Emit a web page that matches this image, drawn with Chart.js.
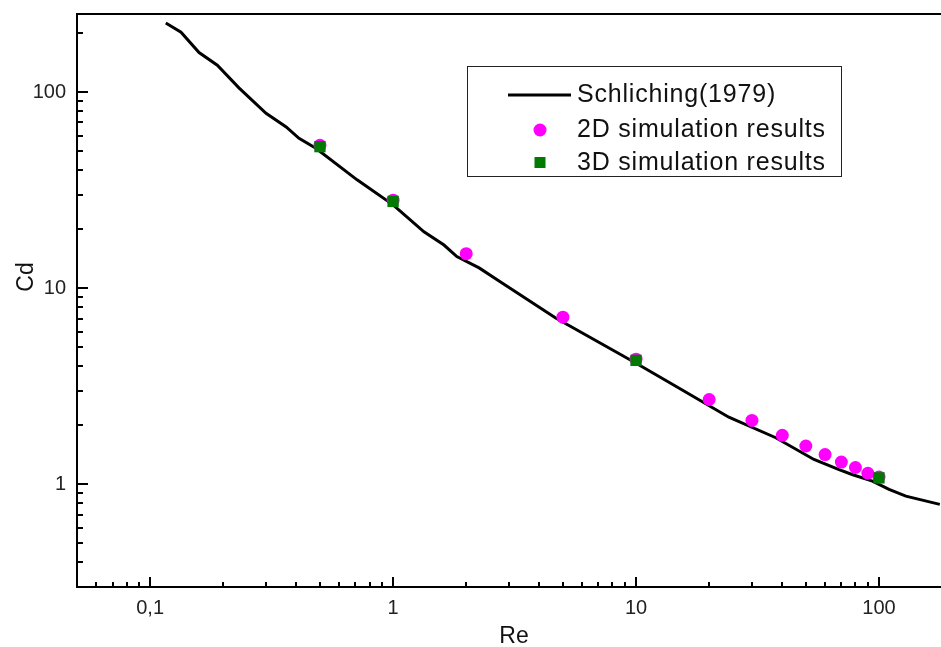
<!DOCTYPE html>
<html>
<head>
<meta charset="utf-8">
<script src="https://cdn.jsdelivr.net/npm/chart.js@4.4.1/dist/chart.umd.min.js"></script>
<style>
  html, body { margin: 0; padding: 0; background: #fff; overflow: hidden; }
  canvas { display: block; }
</style>
</head>
<body>
<canvas id="chart" width="941" height="647"></canvas>
<script>
// Schlichting (1979) reference curve
const schRe = [0.116, 0.134, 0.159, 0.189, 0.232, 0.30, 0.363, 0.41, 0.481, 0.711, 1.0, 1.34, 1.62, 1.83, 2.26, 2.73, 4.67, 9.97, 15.0, 24.1, 37.6, 54, 68.5, 78, 94, 110, 129, 178];
const schCd = [225, 202, 159, 137, 105, 78, 66.4, 58.1, 51.7, 35.7, 26.6, 19.4, 16.6, 14.5, 12.7, 10.9, 7.05, 4.16, 3.10, 2.20, 1.73, 1.34, 1.19, 1.12, 1.04, 0.943, 0.872, 0.791];

// simulation points
const re2D = [0.5, 1, 2, 5, 10, 20, 30, 40, 50, 60, 70, 80, 90, 100];
const cd2D = [53.5, 28.1, 15.0, 7.12, 4.35, 2.71, 2.12, 1.78, 1.57, 1.42, 1.30, 1.22, 1.14, 1.09];
const re3D = [0.5, 1, 10, 100];
const cd3D = [52.7, 27.7, 4.29, 1.08];

// axes
const xTicks = [0.1, 1, 10, 100];
const xTickLabels = ["0,1", "1", "10", "100"];
const yTicks = [1, 10, 100];
const yTickLabels = ["1", "10", "100"];

const FONT = "'Liberation Sans', Arial, sans-serif";

const toPoints = (xs, ys) => xs.map((x, i) => ({ x: x, y: ys[i] }));

// inside ticks, top frame, axis titles, legend box
const decor = {
    id: "decor",
    afterDraw(chart) {
        const ctx = chart.ctx;
        const a = chart.chartArea;
        const sx = chart.scales.x, sy = chart.scales.y;
        ctx.save();
        ctx.strokeStyle = "#000";
        ctx.lineWidth = 2;

        // top frame line
        ctx.beginPath();
        ctx.moveTo(a.left - 1, a.top);
        ctx.lineTo(a.right, a.top);
        ctx.stroke();

        // minor/major ticks, pointing into the plot
        const minorVals = (lo, hi) => {
            const out = [];
            for (let e = Math.floor(Math.log10(lo)); e <= Math.ceil(Math.log10(hi)); e++) {
                for (let s = 1; s < 10; s++) {
                    const v = s * Math.pow(10, e);
                    if (v > lo * 1.0001 && v < hi * 0.9999) out.push({ v: v, major: s === 1 });
                }
            }
            return out;
        };
        ctx.beginPath();
        minorVals(sx.min, sx.max).forEach(t => {
            const px = Math.round(sx.getPixelForValue(t.v));
            ctx.moveTo(px, a.bottom);
            ctx.lineTo(px, a.bottom - (t.major ? 10 : 5));
        });
        minorVals(sy.min, sy.max).forEach(t => {
            const py = Math.round(sy.getPixelForValue(t.v));
            ctx.moveTo(a.left, py);
            ctx.lineTo(a.left + (t.major ? 11 : 6), py);
        });
        ctx.stroke();

        // axis titles
        ctx.fillStyle = "#111";
        ctx.font = "23px " + FONT;
        ctx.textAlign = "center";
        ctx.textBaseline = "alphabetic";
        ctx.fillText("Re", 514, 643);
        ctx.save();
        ctx.translate(33, 277);
        ctx.rotate(-Math.PI / 2);
        ctx.fillText("Cd", 0, 0);
        ctx.restore();

        // legend
        const ds = chart.data.datasets;
        ctx.lineWidth = 1;
        ctx.strokeStyle = "#222";
        ctx.strokeRect(467.5, 66.5, 374, 110);
        ctx.font = "25px " + FONT;
        ctx.letterSpacing = "0.8px";
        ctx.textAlign = "left";
        ctx.textBaseline = "middle";
        ctx.fillStyle = "#111";

        ctx.strokeStyle = ds[0].borderColor;
        ctx.lineWidth = 3;
        ctx.beginPath();
        ctx.moveTo(508, 95);
        ctx.lineTo(571, 95);
        ctx.stroke();
        ctx.fillText(ds[0].label, 577, 95);

        ctx.fillStyle = ds[1].backgroundColor;
        ctx.beginPath();
        ctx.arc(540, 130, 6.5, 0, Math.PI * 2);
        ctx.fill();
        ctx.fillStyle = "#111";
        ctx.fillText(ds[1].label, 577, 130);

        ctx.fillStyle = ds[2].backgroundColor;
        ctx.fillRect(534.5, 157, 11, 11);
        ctx.fillStyle = "#111";
        ctx.fillText(ds[2].label, 577, 163);

        ctx.restore();
    }
};

new Chart(document.getElementById("chart"), {
    type: "scatter",
    data: {
        datasets: [
            {
                label: "Schliching(1979)",
                data: toPoints(schRe, schCd),
                showLine: true,
                borderColor: "#000",
                borderWidth: 3,
                pointRadius: 0,
                tension: 0,
                order: 3
            },
            {
                label: "2D simulation results",
                data: toPoints(re2D, cd2D),
                backgroundColor: "#ff00ff",
                pointStyle: "circle",
                pointRadius: 6.5,
                pointBorderWidth: 0,
                order: 2
            },
            {
                label: "3D simulation results",
                data: toPoints(re3D, cd3D),
                backgroundColor: "#007a00",
                pointStyle: "rect",
                pointRadius: 8,
                pointBorderWidth: 0,
                order: 1
            }
        ]
    },
    options: {
        responsive: false,
        animation: false,
        layout: { autoPadding: false, padding: { top: 14, right: 0, left: 0, bottom: 0 } },
        plugins: { legend: { display: false }, tooltip: { enabled: false } },
        scales: {
            x: {
                type: "logarithmic",
                min: 0.05,
                max: 180,
                grid: { display: false, drawTicks: false },
                border: { display: true, color: "#000", width: 2 },
                afterBuildTicks: s => { s.ticks = xTicks.map(v => ({ value: v })); },
                afterFit: s => { s.height = 60; s.paddingLeft = 0; s.paddingRight = 0; },
                ticks: {
                    autoSkip: false,
                    maxRotation: 0,
                    padding: 9,
                    color: "#222",
                    font: { family: FONT, size: 20 },
                    callback: v => { const i = xTicks.indexOf(v); return i >= 0 ? xTickLabels[i] : ""; }
                }
            },
            y: {
                type: "logarithmic",
                min: 0.3,
                max: 250,
                grid: { display: false, drawTicks: false },
                border: { display: true, color: "#000", width: 2 },
                afterBuildTicks: s => { s.ticks = yTicks.map(v => ({ value: v })); },
                afterFit: s => { s.width = 77; s.paddingTop = 0; s.paddingBottom = 0; },
                ticks: {
                    autoSkip: false,
                    padding: 11,
                    color: "#222",
                    font: { family: FONT, size: 20 },
                    callback: v => { const i = yTicks.indexOf(v); return i >= 0 ? yTickLabels[i] : ""; }
                }
            }
        }
    },
    plugins: [decor]
});
</script>
</body>
</html>
